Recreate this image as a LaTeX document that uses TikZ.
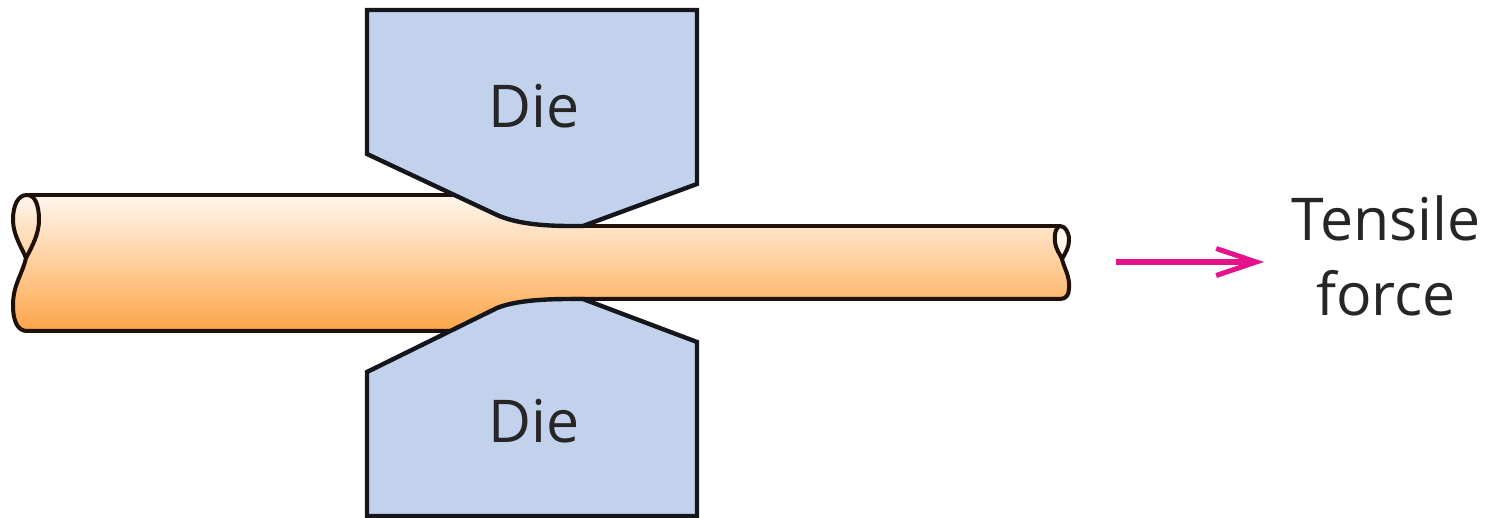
\documentclass[tikz,border=0pt]{standalone}
\usepackage{fontspec}
\setmainfont{Open Sans}
\usetikzlibrary{arrows.meta}
\definecolor{diefill}{HTML}{C3D2EC}
\definecolor{outline}{HTML}{15151C}
\definecolor{rodtop}{HTML}{FFF6EE}
\definecolor{rodmid}{HTML}{FFCF9C}
\definecolor{rodbot}{HTML}{FBA548}
\definecolor{rodline}{HTML}{20100A}
\definecolor{forcecol}{HTML}{E6128C}
\tikzset{
  die/.style={fill=diefill,draw=outline,line width=4.4pt,line join=miter},
  rodedge/.style={draw=rodline,line width=4pt,line join=round},
  rodbody/.style={top color=rodtop,bottom color=rodbot,middle color=rodmid},
  label/.style={font=\fontsize{59}{75}\selectfont,text=black!85,inner sep=0pt,align=center},
  force/.style={draw=forcecol,line width=6pt,-{Straight Barb[length=40pt,width=27pt,line width=5pt]}}
}
\begin{document}
\begin{tikzpicture}[x=1pt,y=-1pt]
\useasboundingbox (0,0) rectangle (1491,518);
% rod body
\path[rodbody] (27,195) -- (455,195) -- (497,215) .. controls (515,223) and (540,226) .. (570,226)
  -- (1058,226) .. controls (1066,226) and (1070,235) .. (1068,243)
  .. controls (1067,250) and (1062,252) .. (1061,259)
  .. controls (1063,268) and (1070,276) .. (1069,288)
  .. controls (1069,295) and (1066,299) .. (1060,299)
  -- (570,299) .. controls (535,299) and (512,302) .. (497,308) -- (455,331) -- (27,331)
  .. controls (18,331) and (13,322) .. (13,305)
  .. controls (13,285) and (23,275) .. (26,258)
  .. controls (37,240) and (40,228) .. (39,218)
  .. controls (38,205) and (35,195) .. (27,195) -- cycle;
% rod outline: left end
\draw[rodedge,top color=rodtop,bottom color=rodmid] (27,195) .. controls (18,195) and (13,205) .. (13,220)
  .. controls (13,235) and (22,248) .. (26,258)
  .. controls (33,245) and (39,233) .. (39,220)
  .. controls (39,205) and (35,195) .. (27,195) -- cycle;
\draw[rodedge] (26,258) .. controls (22,275) and (13,285) .. (13,305)
  .. controls (13,322) and (18,331) .. (27,331) -- (455,331);
\draw[rodedge] (27,195) -- (455,195);
% rod outline: right end
\draw[rodedge,fill=rodtop] (1060,226) .. controls (1056,226) and (1054,235) .. (1055,242)
  .. controls (1056,250) and (1060,254) .. (1062,259)
  .. controls (1066,252) and (1069,247) .. (1069,240)
  .. controls (1069,232) and (1065,226) .. (1060,226) -- cycle;
\draw[rodedge] (1062,259) .. controls (1064,268) and (1070,276) .. (1069,288)
  .. controls (1069,295) and (1066,299) .. (1060,299) -- (570,299);
\draw[rodedge] (1060,226) -- (570,226);
% dies
\draw[die] (367,10) -- (697,10) -- (697,184) -- (583,226) -- (570,226)
  .. controls (540,226) and (515,223) .. (497,215) -- (367,154) -- cycle;
\draw[die] (367,516) -- (697,516) -- (697,342) -- (583,299) -- (570,299)
  .. controls (535,299) and (512,302) .. (497,308) -- (367,372) -- cycle;
\node[label] (dieT) at (534,106) {Die};
\node[label] (dieB) at (534,421) {Die};
% force
\coordinate (forceA) at (1116,262);
\node[label] (forceL) at (1386,256) {Tensile\\force};
\coordinate (forceB) at (1264,262);
\draw[force] (forceA) -- (forceB);
\end{tikzpicture}
\end{document}
